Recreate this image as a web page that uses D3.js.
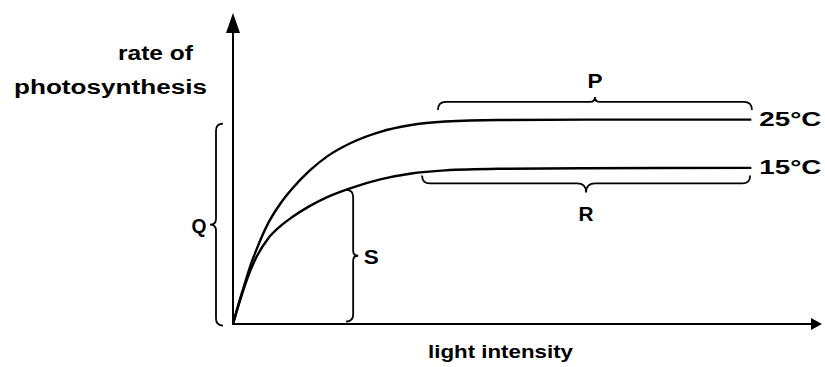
<!DOCTYPE html>
<html>
<head>
<meta charset="utf-8">
<script src="https://cdn.jsdelivr.net/npm/d3@7"></script>
<style>
  body { margin: 0; background: #fff; }
  text { font-family: 'Liberation Sans', Arial, sans-serif; font-weight: bold; fill: #000; }
</style>
</head>
<body>
<div id="chart"></div>
<script>
// light intensity and rate, arbitrary units 0-100
let intensity = [0, 1, 2, 3, 4, 6, 8, 10, 13, 16, 20, 25, 30, 36, 45, 60, 88]
let rate25 = [0, 6.8, 13, 19, 24, 32.5, 38.6, 43.4, 49.3, 53.9, 58.2, 61.8, 63.9, 65.1, 65.6, 65.7, 65.7]
let rate15 = [0, 6.4, 12.3, 17.4, 21.6, 27.6, 31.4, 34.3, 37.9, 40.8, 43.7, 46.5, 48.3, 49.4, 49.9, 50.1, 50.2]
let seriesLabels = ['25°C', '15°C']

// braces: [from, to] along the axis they follow
let braceP = { label: 'P', intensity: [34.8, 88.1], rate: 71.4 }
let braceR = { label: 'R', intensity: [32.1, 87.8], rate: 45.2 }
let braceQ = { label: 'Q', rate: [-0.5, 64.4] }
let braceS = { label: 'S', intensity: 20.4, rate: [0.8, 43.1] }

let width = 825
let height = 367

let svg = d3
  .select('#chart')
  .append('svg')
  .attr('width', width)
  .attr('height', height)

let xScale = d3.scaleLinear().domain([0, 100]).range([233, 822])
let yScale = d3.scaleLinear().domain([0, 100]).range([324, 13])

// axes with arrow heads
svg.append('line')
  .attr('x1', xScale(0)).attr('y1', yScale(0))
  .attr('x2', xScale(0)).attr('y2', yScale(100) + 18)
  .attr('stroke', '#000').attr('stroke-width', 2)
svg.append('line')
  .attr('x1', xScale(0) - 1).attr('y1', yScale(0))
  .attr('x2', xScale(100) - 10).attr('y2', yScale(0))
  .attr('stroke', '#000').attr('stroke-width', 2)

svg.append('path')
  .attr('d', `M${xScale(0)},${yScale(100)} L${xScale(0) + 7},${yScale(100) + 20} L${xScale(0) - 7},${yScale(100) + 20}Z`)
  .attr('fill', '#000')
svg.append('path')
  .attr('d', `M${xScale(100)},${yScale(0)} L${xScale(100) - 11},${yScale(0) + 6} L${xScale(100) - 11},${yScale(0) - 6}Z`)
  .attr('fill', '#000')

// curves
let line = d3.line()
  .x(d => xScale(d[0]))
  .y(d => yScale(d[1]))
  .curve(d3.curveMonotoneX)

let series = [rate25, rate15]
series.forEach((values, i) => {
  let pts = intensity.map((x, j) => [x, values[j]])
  svg.append('path')
    .datum(pts)
    .attr('d', line)
    .attr('fill', 'none')
    .attr('stroke', '#000')
    .attr('stroke-width', 2.4)

  let last = pts[pts.length - 1]
  svg.append('text')
    .attr('x', xScale(last[0]) + 8)
    .attr('y', yScale(last[1]) + 6)
    .attr('font-size', 21)
    .attr('textLength', 62)
    .attr('lengthAdjust', 'spacingAndGlyphs')
    .text(seriesLabels[i])
})

// curly brace from a to b, tip pointing along n
function brace(a, b, n, h, t) {
  let len = Math.hypot(b[0] - a[0], b[1] - a[1])
  let u = [(b[0] - a[0]) / len, (b[1] - a[1]) / len]
  let p = (s, v) => [a[0] + s * u[0] + v * n[0], a[1] + s * u[1] + v * n[1]].join(',')
  let m = len / 2
  return `M${p(0, -h)} Q${p(0, 0)} ${p(h, 0)} L${p(m - t, 0)} Q${p(m, 0)} ${p(m, t)} ` +
    `Q${p(m, 0)} ${p(m + t, 0)} L${p(len - h, 0)} Q${p(len, 0)} ${p(len, -h)}`
}

let braces = svg.append('g')
  .attr('fill', 'none')
  .attr('stroke', '#000')
  .attr('stroke-width', 1.8)

braces.append('path').attr('d', brace(
  [xScale(braceP.intensity[0]), yScale(braceP.rate)],
  [xScale(braceP.intensity[1]), yScale(braceP.rate)], [0, -1], 8, 5))
braces.append('path').attr('d', brace(
  [xScale(braceR.intensity[0]), yScale(braceR.rate)],
  [xScale(braceR.intensity[1]), yScale(braceR.rate)], [0, 1], 8, 9))
braces.append('path').attr('d', brace(
  [xScale(0) - 17, yScale(braceQ.rate[1])],
  [xScale(0) - 17, yScale(braceQ.rate[0])], [-1, 0], 7, 6))
braces.append('path').attr('d', brace(
  [xScale(braceS.intensity), yScale(braceS.rate[1])],
  [xScale(braceS.intensity), yScale(braceS.rate[0])], [1, 0], 7, 5))

let letter = (x, y, s) => svg.append('text')
  .attr('x', x).attr('y', y)
  .attr('text-anchor', 'middle')
  .attr('font-size', 20)
  .attr('textLength', 15)
  .attr('lengthAdjust', 'spacingAndGlyphs')
  .text(s)

letter(d3.mean(braceP.intensity.map(xScale)), yScale(braceP.rate) - 14, braceP.label)
letter(d3.mean(braceR.intensity.map(xScale)), yScale(braceR.rate) + 38, braceR.label)
letter(xScale(0) - 34, d3.mean(braceQ.rate.map(yScale)) + 8, braceQ.label)
letter(xScale(braceS.intensity) + 18, d3.mean(braceS.rate.map(yScale)) + 8, braceS.label)

// axis titles
svg.append('text')
  .attr('x', 118).attr('y', 60)
  .attr('font-size', 20)
  .attr('textLength', 75)
  .attr('lengthAdjust', 'spacingAndGlyphs')
  .text('rate of')
svg.append('text')
  .attr('x', 14).attr('y', 94)
  .attr('font-size', 20)
  .attr('textLength', 193)
  .attr('lengthAdjust', 'spacingAndGlyphs')
  .text('photosynthesis')
svg.append('text')
  .attr('x', 428).attr('y', 358)
  .attr('font-size', 19)
  .attr('textLength', 145)
  .attr('lengthAdjust', 'spacingAndGlyphs')
  .text('light intensity')
</script>
</body>
</html>
